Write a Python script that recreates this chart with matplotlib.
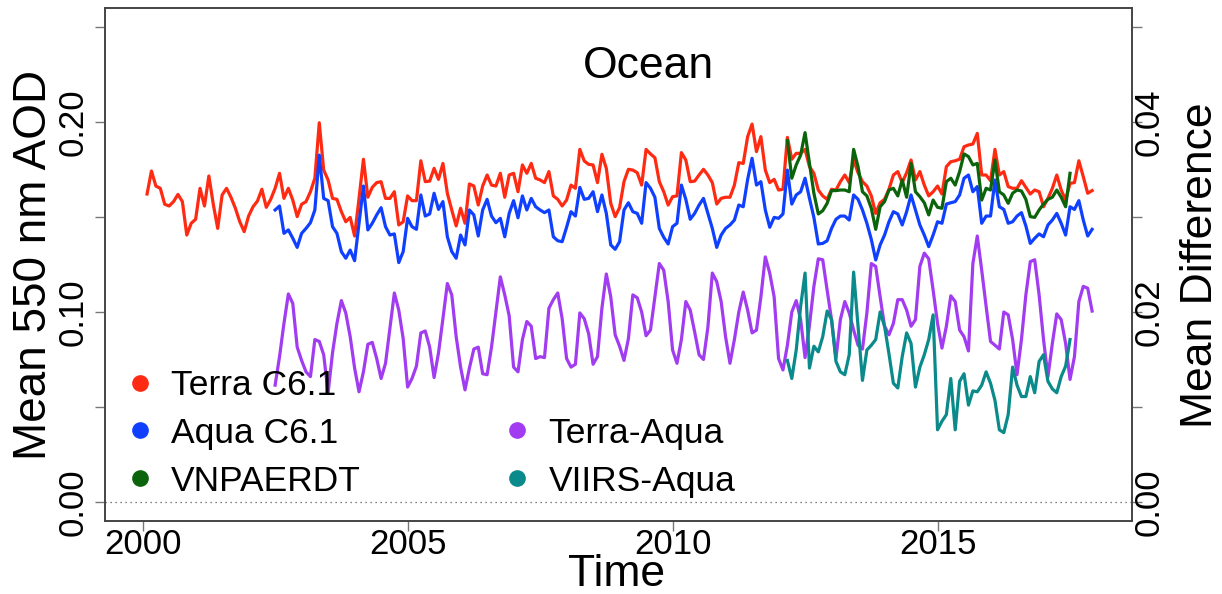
import numpy as np
import matplotlib
matplotlib.use("Agg")
import matplotlib.pyplot as plt
from matplotlib.lines import Line2D

plt.rcParams['font.family'] = ['Liberation Sans', 'DejaVu Sans']

# ---------------- data (monthly means) ----------------
terra_start = 2000 + 1 / 12    # Feb 2000
aqua_start = 2002 + 6 / 12     # Jul 2002
viirs_start = 2012 + 2 / 12    # Mar 2012

terra_c61 = [
    0.1621, 0.1742, 0.1663, 0.1651, 0.1567, 0.1558, 0.1581, 0.1619, 0.1581, 0.1405, 0.1467, 0.1488,
    0.1651, 0.1558, 0.1716, 0.1567, 0.1440, 0.1616, 0.1651, 0.1604, 0.1546, 0.1475, 0.1423, 0.1505,
    0.1554, 0.1584, 0.1646, 0.1551, 0.1593, 0.1651, 0.1730, 0.1598, 0.1651, 0.1589, 0.1502, 0.1567,
    0.1581, 0.1633, 0.1704, 0.1996, 0.1747, 0.1695, 0.1598, 0.1593, 0.1528, 0.1475, 0.1498, 0.1400,
    0.1598, 0.1804, 0.1604, 0.1656, 0.1681, 0.1686, 0.1598, 0.1598, 0.1633, 0.1458, 0.1475, 0.1611,
    0.1586,
    0.1586, 0.1796, 0.1686, 0.1689, 0.1756, 0.1698, 0.1782, 0.1625, 0.1537, 0.1453, 0.1546, 0.1467,
    0.1674, 0.1663, 0.1563, 0.1663, 0.1721, 0.1668, 0.1663, 0.1730, 0.1604, 0.1721, 0.1730, 0.1633,
    0.1774, 0.1730, 0.1782, 0.1704, 0.1695, 0.1681, 0.1739, 0.1611, 0.1593, 0.1558, 0.1589, 0.1668,
    0.1651, 0.1856, 0.1795, 0.1777, 0.1774, 0.1681, 0.1830, 0.1756, 0.1572, 0.1502, 0.1549, 0.1686,
    0.1751, 0.1747, 0.1733, 0.1668, 0.1856, 0.1832, 0.1812, 0.1686, 0.1633, 0.1563, 0.1607, 0.1611,
    0.1839,
    0.1800, 0.1686, 0.1689, 0.1721, 0.1751, 0.1721, 0.1681, 0.1568, 0.1598, 0.1604, 0.1604, 0.1668,
    0.1786, 0.1782, 0.1923, 0.1989, 0.1844, 0.1923, 0.1747, 0.1681, 0.1698, 0.1642, 0.1646, 0.1919,
    0.1804, 0.1835, 0.1835, 0.1856, 0.1765, 0.1730, 0.1642, 0.1611, 0.1593, 0.1646, 0.1642, 0.1686,
    0.1721, 0.1681, 0.1800, 0.1733, 0.1686, 0.1663, 0.1611, 0.1519, 0.1575, 0.1593, 0.1646, 0.1721,
    0.1739, 0.1681, 0.1733, 0.1800, 0.1695, 0.1739, 0.1668, 0.1611, 0.1633, 0.1663, 0.1621, 0.1765,
    0.1791,
    0.1796, 0.1804, 0.1870, 0.1879, 0.1884, 0.1940, 0.1721, 0.1721, 0.1691, 0.1856, 0.1721, 0.1739,
    0.1660, 0.1651, 0.1651, 0.1691, 0.1656, 0.1621, 0.1642, 0.1633, 0.1554, 0.1598, 0.1651, 0.1721,
    0.1642, 0.1589, 0.1677, 0.1681, 0.1796, 0.1712, 0.1625, 0.1639,
]

aqua_c61 = [
    0.1537, 0.1558, 0.1414, 0.1432, 0.1388, 0.1340, 0.1414, 0.1440, 0.1470, 0.1537, 0.1826, 0.1598,
    0.1586, 0.1449, 0.1414, 0.1318, 0.1283, 0.1326, 0.1270, 0.1467, 0.1663, 0.1432, 0.1467, 0.1511,
    0.1549, 0.1449, 0.1405, 0.1411, 0.1260, 0.1318, 0.1493, 0.1449,
    0.1435, 0.1616, 0.1505, 0.1516, 0.1625, 0.1540, 0.1581, 0.1396, 0.1318, 0.1283, 0.1405, 0.1353,
    0.1537, 0.1511, 0.1400, 0.1537, 0.1593, 0.1505, 0.1470, 0.1493, 0.1396, 0.1519, 0.1586, 0.1496,
    0.1611, 0.1537, 0.1598, 0.1554, 0.1537, 0.1523, 0.1537, 0.1396, 0.1375, 0.1370, 0.1446, 0.1528,
    0.1505, 0.1656, 0.1593, 0.1598, 0.1633, 0.1528, 0.1616, 0.1519, 0.1353, 0.1330, 0.1370, 0.1537,
    0.1575, 0.1528, 0.1519, 0.1467, 0.1681, 0.1651, 0.1604, 0.1440, 0.1393, 0.1358, 0.1449, 0.1467,
    0.1668,
    0.1593, 0.1488, 0.1519, 0.1563, 0.1598, 0.1519, 0.1440, 0.1340, 0.1405, 0.1440, 0.1458, 0.1484,
    0.1563, 0.1554, 0.1698, 0.1809, 0.1668, 0.1686, 0.1537, 0.1446, 0.1498, 0.1493, 0.1516, 0.1747,
    0.1568, 0.1616, 0.1633, 0.1704, 0.1598, 0.1498, 0.1358, 0.1361, 0.1375, 0.1440, 0.1488, 0.1505,
    0.1505, 0.1484, 0.1616, 0.1593, 0.1537, 0.1467, 0.1382, 0.1274, 0.1353, 0.1405, 0.1475, 0.1528,
    0.1516, 0.1458, 0.1528, 0.1616, 0.1537, 0.1458, 0.1405, 0.1344, 0.1405, 0.1475, 0.1467, 0.1568,
    0.1575,
    0.1581, 0.1616, 0.1704, 0.1721, 0.1633, 0.1660, 0.1467, 0.1505, 0.1505, 0.1695, 0.1554, 0.1540,
    0.1467, 0.1475, 0.1505, 0.1523, 0.1453, 0.1361, 0.1388, 0.1411, 0.1396, 0.1458, 0.1484, 0.1519,
    0.1467, 0.1405, 0.1554, 0.1540, 0.1586, 0.1484, 0.1400, 0.1435,
]

vnpaerdt = [
    0.1902, 0.1704, 0.1774, 0.1826, 0.1944, 0.1782, 0.1625, 0.1516, 0.1533, 0.1572, 0.1639, 0.1639,
    0.1642, 0.1642, 0.1633, 0.1856, 0.1765, 0.1633, 0.1611, 0.1546, 0.1435, 0.1554, 0.1581, 0.1642,
    0.1651, 0.1611, 0.1695, 0.1604, 0.1782, 0.1633, 0.1607, 0.1575, 0.1511, 0.1589, 0.1551, 0.1546,
    0.1686, 0.1704,
    0.1668, 0.1739, 0.1832, 0.1818, 0.1774, 0.1782, 0.1589, 0.1651, 0.1642, 0.1800, 0.1633, 0.1616,
    0.1572, 0.1625, 0.1642, 0.1637, 0.1593, 0.1502, 0.1498, 0.1537, 0.1568, 0.1593, 0.1604, 0.1642,
    0.1604, 0.1554, 0.1730,
]

terra_minus_aqua = [
    0.0123, 0.0153, 0.0188, 0.0219, 0.0209, 0.0163, 0.0149, 0.0137, 0.0132, 0.0171, 0.0169, 0.0155,
    0.0115, 0.0157, 0.0188, 0.0212, 0.0199, 0.0174, 0.0141, 0.0116, 0.0137, 0.0166, 0.0168, 0.0151,
    0.0130, 0.0146, 0.0183, 0.0220, 0.0202, 0.0172, 0.0121, 0.0130, 0.0143, 0.0178, 0.0180, 0.0163,
    0.0131, 0.0157, 0.0193, 0.0230, 0.0218, 0.0174, 0.0142, 0.0118, 0.0141, 0.0161, 0.0163, 0.0135,
    0.0134, 0.0163, 0.0200, 0.0237, 0.0218, 0.0196, 0.0142, 0.0137, 0.0171, 0.0190, 0.0185, 0.0151,
    0.0153, 0.0152, 0.0204, 0.0213, 0.0220, 0.0193, 0.0151, 0.0142, 0.0145, 0.0199, 0.0193, 0.0177,
    0.0145, 0.0153, 0.0204, 0.0240, 0.0216, 0.0176, 0.0164, 0.0149, 0.0172, 0.0218, 0.0215, 0.0200,
    0.0175, 0.0181, 0.0216, 0.0251, 0.0244, 0.0211, 0.0160, 0.0146, 0.0171, 0.0211, 0.0202, 0.0179,
    0.0155, 0.0150, 0.0184, 0.0241, 0.0232, 0.0211, 0.0174, 0.0146, 0.0171, 0.0200, 0.0221, 0.0202,
    0.0178, 0.0181, 0.0216, 0.0258, 0.0241, 0.0216,
    0.0151, 0.0139, 0.0165, 0.0200, 0.0212, 0.0192, 0.0152, 0.0186, 0.0227, 0.0256, 0.0255, 0.0223,
    0.0192, 0.0151, 0.0192, 0.0211, 0.0199, 0.0181, 0.0165, 0.0161, 0.0199, 0.0251, 0.0248, 0.0216,
    0.0185, 0.0176, 0.0188, 0.0213, 0.0213, 0.0202, 0.0185, 0.0192, 0.0248, 0.0262, 0.0256, 0.0223,
    0.0188, 0.0162, 0.0185, 0.0217, 0.0211, 0.0181, 0.0174, 0.0159, 0.0251, 0.0280, 0.0244, 0.0206,
    0.0169, 0.0165, 0.0161, 0.0200, 0.0197, 0.0171, 0.0134, 0.0171, 0.0218, 0.0253, 0.0255, 0.0218,
    0.0171, 0.0132, 0.0167, 0.0198, 0.0192, 0.0167, 0.0129, 0.0153, 0.0211, 0.0227, 0.0225, 0.0201,
]

viirs_minus_aqua = [
    0.0149, 0.0130, 0.0160, 0.0206, 0.0241, 0.0141, 0.0164, 0.0158, 0.0174, 0.0201, 0.0192, 0.0148,
    0.0137, 0.0134, 0.0155, 0.0242, 0.0185, 0.0128, 0.0160, 0.0165, 0.0171, 0.0200, 0.0185, 0.0156,
    0.0125, 0.0120, 0.0153, 0.0178, 0.0167, 0.0121, 0.0142, 0.0155, 0.0171, 0.0197, 0.0076, 0.0085,
    0.0092, 0.0130, 0.0076, 0.0127, 0.0135, 0.0102,
    0.0117, 0.0116, 0.0123, 0.0137, 0.0125, 0.0107, 0.0076, 0.0073, 0.0092, 0.0142, 0.0123, 0.0111,
    0.0111, 0.0132, 0.0115, 0.0148, 0.0155, 0.0127, 0.0119, 0.0115, 0.0132, 0.0143, 0.0171,
]

x_ticks = [2000, 2005, 2010, 2015]
left_ticks = [0.00, 0.05, 0.10, 0.15, 0.20, 0.25]
left_labels = ['0.00', '', '0.10', '', '0.20', '']
right_ticks = [0.00, 0.01, 0.02, 0.03, 0.04, 0.05]
right_labels = ['0.00', '', '0.02', '', '0.04', '']

c_terra = '#ff2a12'
c_aqua = '#1040ff'
c_viirs = '#0b640b'
c_ta = '#a23cf0'
c_va = '#0a8a8a'


def months(start, n):
    return start + np.arange(n) / 12.0


fig = plt.figure(figsize=(12.22, 5.94), dpi=100)
ax = fig.add_axes([105 / 1222, 1 - 521 / 594, (1131.5 - 105) / 1222, (521 - 8) / 594])
ax2 = ax.twinx()

lw = 2.3
ax.plot(months(terra_start, len(terra_c61)), terra_c61, color=c_terra, lw=lw, zorder=3)
ax.plot(months(aqua_start, len(aqua_c61)), aqua_c61, color=c_aqua, lw=lw, zorder=3)
ax.plot(months(viirs_start, len(vnpaerdt)), vnpaerdt, color=c_viirs, lw=lw, zorder=4)
ax.axhline(0, color='#555555', lw=0.9, linestyle=(0, (1, 3)), zorder=1)

ax2.plot(months(aqua_start, len(terra_minus_aqua)), terra_minus_aqua, color=c_ta, lw=lw)
ax2.plot(months(viirs_start, len(viirs_minus_aqua)), viirs_minus_aqua, color=c_va, lw=lw)

ax.set_xlim(1999.29, 2018.66)
ax.set_ylim(-0.01, 0.26)
ax2.set_ylim(-0.002, 0.052)

ax.set_xticks(x_ticks)
ax.set_xticklabels([str(v) for v in x_ticks])
ax.set_yticks(left_ticks)
ax.set_yticklabels(left_labels)
ax2.set_yticks(right_ticks)
ax2.set_yticklabels(right_labels)

tick_fs = 25
ax.tick_params(axis='x', direction='out', length=7, width=1, color='#777777',
               labelsize=tick_fs, pad=-2)
ax.tick_params(axis='y', direction='out', length=7, width=1, color='#777777',
               labelsize=tick_fs, pad=4, labelrotation=90)
ax2.tick_params(axis='y', direction='out', length=7, width=1, color='#777777',
                labelsize=tick_fs, pad=-6, labelrotation=90)
for lab in ax.get_yticklabels() + ax2.get_yticklabels():
    lab.set_va('center')

for a in (ax, ax2):
    for sp in a.spines.values():
        sp.set_color('#444444')
        sp.set_linewidth(1.2)

fig.text(34.5 / 1222, 1 - 265 / 594, 'Mean 550 nm AOD', rotation=90,
         ha='center', va='center', fontsize=33)
fig.text(1200.5 / 1222, 1 - 265 / 594, 'Mean Difference', rotation=90,
         ha='center', va='center', fontsize=32)
fig.text(616.5 / 1222, 1 - 574 / 594, 'Time', ha='center', va='center', fontsize=32)
ax.text(0.529, 0.8855, 'Ocean', transform=ax.transAxes, ha='center', va='center',
        fontsize=32, zorder=5)

ms = 11
handles = [
    Line2D([], [], linestyle='', marker='o', color=c_terra, markersize=ms),
    Line2D([], [], linestyle='', marker='o', color=c_aqua, markersize=ms),
    Line2D([], [], linestyle='', marker='o', color=c_viirs, markersize=ms),
    Line2D([], [], linestyle='', marker=''),
    Line2D([], [], linestyle='', marker='o', color=c_ta, markersize=ms),
    Line2D([], [], linestyle='', marker='o', color=c_va, markersize=ms),
]
labels = ['Terra C6.1', 'Aqua C6.1', 'VNPAERDT', ' ', 'Terra-Aqua', 'VIIRS-Aqua']
leg = ax2.legend(handles, labels, ncol=2, loc='upper left',
                 bbox_to_anchor=((125.6 - 105) / 1026.5, (521 - 369) / 513),
                 frameon=False, fontsize=25.5, handlelength=0.8, handletextpad=0.49,
                 columnspacing=4.0, labelspacing=0.42, borderpad=0, borderaxespad=0)
leg.set_zorder(10)

fig.savefig('out.png', dpi=100)
